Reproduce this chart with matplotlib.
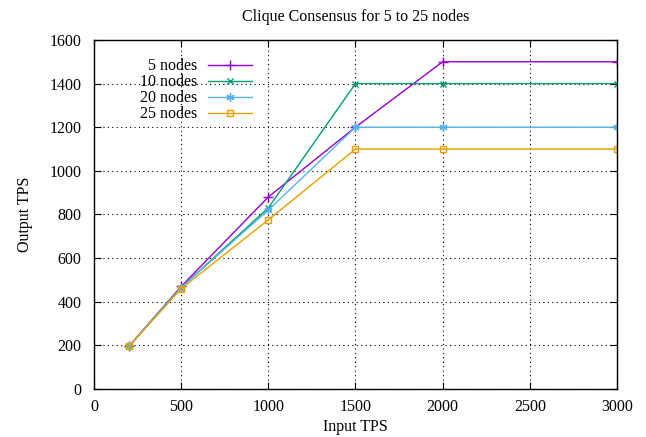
import matplotlib.pyplot as plt

plt.rcParams['font.family'] = ['Liberation Serif', 'DejaVu Serif']

input_tps = [200, 500, 1000, 1500, 2000, 3000]
tps_5 = [195, 470, 880, 1200, 1500, 1500]
tps_10 = [195, 465, 830, 1400, 1400, 1400]
tps_20 = [195, 465, 820, 1200, 1200, 1200]
tps_25 = [195, 460, 775, 1100, 1100, 1100]

fig = plt.figure(figsize=(6.46, 4.37), dpi=100)
ax = fig.add_axes([0.1455, 0.110, 0.8095, 0.7985])

ax.plot(input_tps, tps_5, color='#9400d3', marker='+', ms=7, lw=1, label='5 nodes')
ax.plot(input_tps, tps_10, color='#009e73', marker='x', ms=5, lw=1, label='10 nodes')
ax.plot(input_tps, tps_20, color='#56b4e9', marker=(6, 2, 0), ms=6, lw=1, label='20 nodes')
ax.plot(input_tps, tps_25, color='#e69f00', marker='s', ms=5, mfc='none', lw=1, label='25 nodes')

ax.set_xlim(0, 3000)
ax.set_ylim(0, 1600)
ax.set_xticks(range(0, 3001, 500))
ax.set_yticks(range(0, 1601, 200))
ax.grid(True, ls=(0, (1, 3)), color='black', lw=0.8)
ax.tick_params(direction='in', top=True, right=True, labelsize=11.5, length=5)
ax.tick_params(axis='x', pad=7)
ax.tick_params(axis='y', pad=9)
for s in ax.spines.values():
    s.set_linewidth(1)

ax.set_title('Clique Consensus for 5 to 25 nodes', fontsize=11.5, pad=14)
ax.set_xlabel('Input TPS', fontsize=11.5, labelpad=3)
ax.set_ylabel('Output TPS', fontsize=11.5, labelpad=12)

leg = ax.legend(loc='upper left', bbox_to_anchor=(0.0765, 0.966), markerfirst=False,
                frameon=False, fontsize=11.5, handlelength=2.75, labelspacing=0.0,
                handletextpad=0.65, borderaxespad=0)
for t in leg.get_texts():
    t.set_ha('right')
leg._legend_box.align = 'right'

fig.savefig('out.png', dpi=100)
